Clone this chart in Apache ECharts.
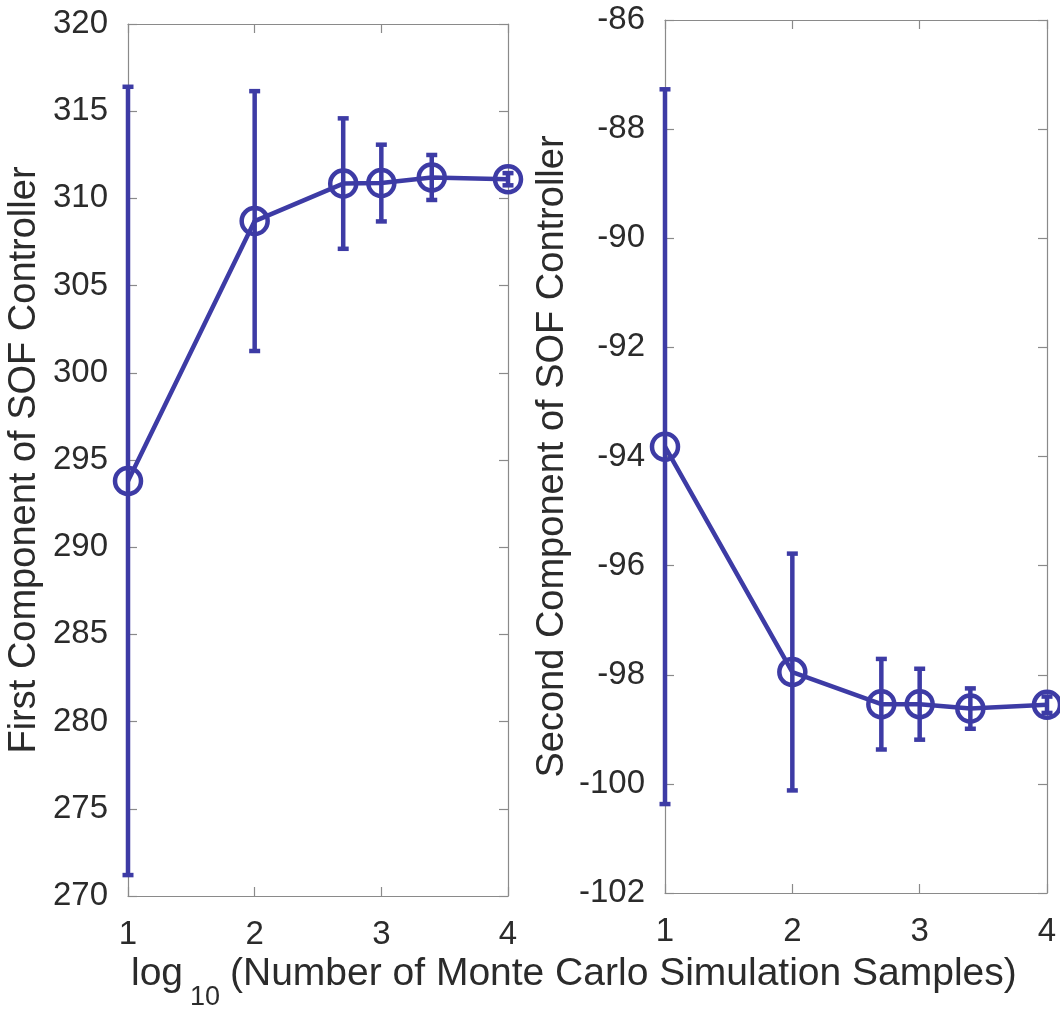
<!DOCTYPE html>
<html>
<head>
<meta charset="utf-8">
<script src="https://cdn.jsdelivr.net/npm/echarts@6/dist/echarts.min.js"></script>
<style>
  html, body { margin: 0; padding: 0; background: #fff; }
  #chart { width: 1060px; height: 1013px; }
</style>
</head>
<body>
<div id="chart"></div>
<script>
// log10 of number of Monte Carlo samples
const xValues = [1, 2, 2.699, 3, 3.398, 4];
// First component of SOF controller: mean and error half-width
const firstMean = [293.8, 308.7, 310.85, 310.88, 311.2, 311.1];
const firstErr  = [22.6, 7.45, 3.74, 2.2, 1.29, 0.35];
// Second component of SOF controller: mean and error half-width
const secondMean = [-93.82, -97.95, -98.54, -98.54, -98.62, -98.55];
const secondErr  = [6.55, 2.17, 0.83, 0.65, 0.37, 0.15];

const xTicks = { min: 1, max: 4, interval: 1 };
const yTicksFirst = { min: 270, max: 320, interval: 5 };
const yTicksSecond = { min: -102, max: -86, interval: 2 };

const BLUE = '#3d3ba5';
const AXIS = '#8a8a8a';
const TEXT = '#2b2b2b';
const FONT = 'Liberation Sans';

function errData(means, errs) {
  return xValues.map((x, i) => [x, means[i] - errs[i], means[i] + errs[i]]);
}
function lineData(means) {
  return xValues.map((x, i) => [x, means[i]]);
}

function renderErr(params, api) {
  const x = api.value(0);
  const pLo = api.coord([x, api.value(1)]);
  const pHi = api.coord([x, api.value(2)]);
  const hw = 5.5;
  const st = { stroke: BLUE, lineWidth: 4.5, lineCap: 'butt' };
  return {
    type: 'group',
    children: [
      { type: 'line', shape: { x1: pHi[0], y1: pHi[1], x2: pLo[0], y2: pLo[1] }, style: st },
      { type: 'line', shape: { x1: pHi[0] - hw, y1: pHi[1], x2: pHi[0] + hw, y2: pHi[1] }, style: st },
      { type: 'line', shape: { x1: pLo[0] - hw, y1: pLo[1], x2: pLo[0] + hw, y2: pLo[1] }, style: st }
    ]
  };
}

function xAxisPair(gridIndex) {
  const base = {
    type: 'value', gridIndex, min: xTicks.min, max: xTicks.max, interval: xTicks.interval,
    axisLine: { show: true, onZero: false, lineStyle: { color: AXIS, width: 1.2 } },
    axisTick: { show: true, inside: true, length: 9, lineStyle: { color: AXIS, width: 1.2 } },
    splitLine: { show: false }
  };
  return [
    Object.assign({}, base, {
      position: 'bottom',
      axisLabel: { show: true, margin: 22, fontSize: 33, color: TEXT, fontFamily: FONT }
    }),
    Object.assign({}, base, { position: 'top', axisLabel: { show: false } })
  ];
}

function yAxisPair(gridIndex, ticks, name, gap) {
  const base = {
    type: 'value', gridIndex, min: ticks.min, max: ticks.max, interval: ticks.interval,
    axisLine: { show: true, onZero: false, lineStyle: { color: AXIS, width: 1.2 } },
    axisTick: { show: true, inside: true, length: 9, lineStyle: { color: AXIS, width: 1.2 } },
    splitLine: { show: false }
  };
  return [
    Object.assign({}, base, {
      position: 'left',
      name: name, nameLocation: 'middle', nameGap: gap,
      nameTextStyle: { fontSize: 38, color: TEXT, fontFamily: FONT },
      axisLabel: { show: true, margin: 20, fontSize: 33, color: TEXT, fontFamily: FONT }
    }),
    Object.assign({}, base, { position: 'right', axisLabel: { show: false } })
  ];
}

const chart = echarts.init(document.getElementById('chart'), null, { renderer: 'canvas' });

const option = {
  animation: false,
  backgroundColor: '#ffffff',
  grid: [
    { left: 128, right: 552, top: 24, bottom: 117, containLabel: false },
    { left: 665, right: 13, top: 20, bottom: 120, containLabel: false }
  ],
  xAxis: [].concat(xAxisPair(0), xAxisPair(1)),
  yAxis: [].concat(
    yAxisPair(0, yTicksFirst, 'First Component of SOF Controller', 84),
    yAxisPair(1, yTicksSecond, 'Second Component of SOF Controller', 93)
  ),
  graphic: [
    { type: 'text', left: 131, top: 955, style: { text: 'log', fontSize: 39, fill: TEXT, fontFamily: FONT } },
    { type: 'text', left: 190, top: 984, style: { text: '10', fontSize: 27, fill: TEXT, fontFamily: FONT } },
    { type: 'text', left: 230, top: 955, style: { text: '(Number of Monte Carlo Simulation Samples)', fontSize: 39, fill: TEXT, fontFamily: FONT } }
  ],
  series: [
    {
      type: 'custom', xAxisIndex: 0, yAxisIndex: 0, clip: false, z: 3,
      renderItem: renderErr, encode: { x: 0, y: [1, 2] },
      data: errData(firstMean, firstErr)
    },
    {
      type: 'line', xAxisIndex: 0, yAxisIndex: 0, clip: false, z: 4,
      data: lineData(firstMean),
      symbol: 'circle', symbolSize: 26,
      itemStyle: { color: 'rgba(0,0,0,0)', borderColor: BLUE, borderWidth: 4.5 },
      lineStyle: { color: BLUE, width: 4.5 }
    },
    {
      type: 'custom', xAxisIndex: 2, yAxisIndex: 2, clip: false, z: 3,
      renderItem: renderErr, encode: { x: 0, y: [1, 2] },
      data: errData(secondMean, secondErr)
    },
    {
      type: 'line', xAxisIndex: 2, yAxisIndex: 2, clip: false, z: 4,
      data: lineData(secondMean),
      symbol: 'circle', symbolSize: 26,
      itemStyle: { color: 'rgba(0,0,0,0)', borderColor: BLUE, borderWidth: 4.5 },
      lineStyle: { color: BLUE, width: 4.5 }
    }
  ]
};
chart.setOption(option);
</script>
</body>
</html>
